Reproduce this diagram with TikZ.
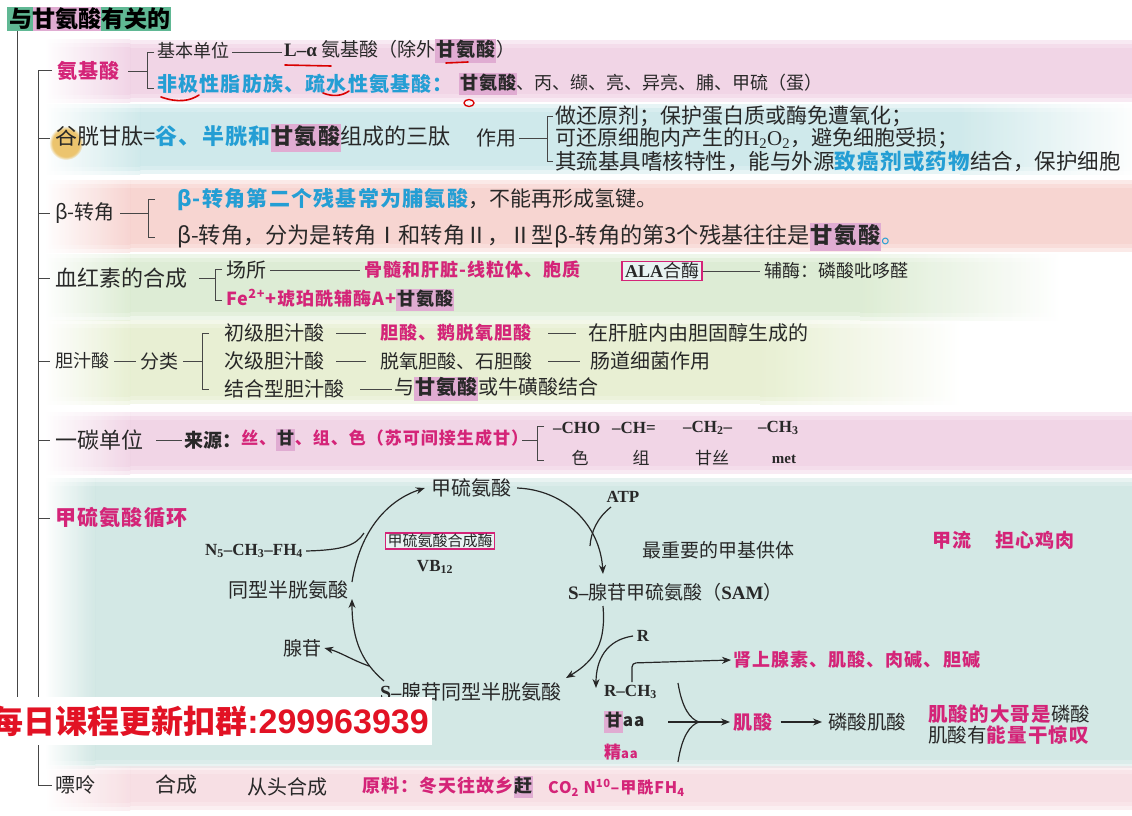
\documentclass[tikz,border=0pt]{standalone}
\usepackage{fontspec}
\setmainfont{Noto Sans CJK SC}
\newfontfamily\hei[LetterSpace=6]{Noto Sans CJK SC}
\newfontfamily\tms{Liberation Serif}
\newfontfamily\arl{Liberation Sans}
\usetikzlibrary{arrows.meta,fadings}
\definecolor{mag}{RGB}{212,36,120}
\definecolor{cyn}{RGB}{36,158,212}
\definecolor{hlc}{RGB}{224,172,210}
\definecolor{txt}{RGB}{40,40,40}
\definecolor{lnc}{RGB}{70,70,70}
\definecolor{ttg}{RGB}{96,184,148}
\definecolor{bred}{RGB}{226,18,36}
\definecolor{bA}{RGB}{238,200,224}
\definecolor{bB}{RGB}{194,228,230}
\definecolor{bC}{RGB}{246,200,196}
\definecolor{bD}{RGB}{212,232,200}
\definecolor{bE}{RGB}{226,236,198}
\definecolor{bF}{RGB}{238,202,224}
\definecolor{bG}{RGB}{198,226,222}
\definecolor{bH}{RGB}{246,214,220}
\definecolor{blob}{RGB}{236,196,110}
\newcommand\fz[1]{\fontsize{#1}{#1}\selectfont}
\newcommand\mg[1]{\textcolor{mag}{\hei\bfseries #1}}
\newcommand\cy[1]{\textcolor{cyn}{\hei\bfseries #1}}
\newcommand\hlt[1]{{\setlength{\fboxsep}{0.8pt}\colorbox{hlc}{\hei\bfseries\strut #1}}}
\newcommand\myband[7]{\foreach \bandd in {0,4,8}{%
  \shade[left color=white,right color=#3,opacity=0.38] (#4,#1+\bandd) rectangle (#5,#2-\bandd);
  \fill[#3,opacity=0.38] (#5,#1+\bandd) rectangle (#6,#2-\bandd);
  \shade[left color=#3,right color=white,opacity=0.38] (#6,#1+\bandd) rectangle (#7,#2-\bandd);}}
\begin{document}
\begin{tikzpicture}[x=1pt,y=-1pt,
  tx/.style={anchor=west, inner sep=0pt, text=txt, font=\fz{19}},
  ln/.style={draw=lnc, line width=0.9pt},
  arr/.style={draw=black!85, line width=1.2pt, -{Stealth[length=9pt,width=7pt]}},
  cl/.style={draw=black!85, line width=1.2pt},
  rmark/.style={draw=red!85!black, line width=1.6pt, line cap=round},
  mbox/.style={draw=mag, line width=1.5pt, text=txt, fill=white!60!bG}]
\useasboundingbox (0,0) rectangle (1132,816);
\fill[white] (0,0) rectangle (1132,816);
% background bands
\myband{40}{102}{bA}{45}{130}{1132}{1140}
\myband{104}{174}{bB}{45}{140}{960}{1140}
\myband{180}{252}{bC}{45}{130}{1132}{1140}
\myband{254}{320}{bD}{45}{130}{860}{1060}
\myband{320}{404}{bE}{45}{130}{760}{960}
\myband{412}{474}{bF}{45}{130}{1132}{1140}
\myband{478}{768}{bG}{45}{95}{1132}{1140}
\myband{766}{810}{bH}{45}{130}{1132}{1140}
\fill[blob, path fading=circle with fuzzy edge 20 percent] (66,143) circle (17);
% title
\fill[ttg] (7,7) rectangle (33,31);
\fill[hlc] (33,7) rectangle (101,31);
\fill[ttg] (101,7) rectangle (171,31);
\node[tx, font=\fz{23}\bfseries, text=black] (title) at (9,19) {与甘氨酸有关的};
% trunks
\draw[ln] (17,31) -- (17,720);
\draw[ln] (52,70) -- (38,70) -- (38,785) -- (52,785);
\foreach \yy in {138,213,278,361,440,518} \draw[ln] (38,\yy) -- (50,\yy);
% amino acid
\node[tx, font=\fz{20}] (aa) at (57,71) {\mg{氨基酸}};
\draw[ln] (128,71) -- (147,71);
\draw[ln] (154,52) -- (147,52) -- (147,88) -- (154,88);
\node[tx, font=\fz{18}] (jb) at (157,51) {基本单位};
\draw[ln] (jb.east) ++(3,1) -- (282,52);
\node[tx, font=\fz{19}] (la) at (284,51) {{\tms\bfseries L–α} 氨基酸（除外\hlt{甘氨酸}）};
\node[tx, font=\fz{20}] (fj) at (157,84) {\cy{非极性脂肪族、疏水性氨基酸：}};
\node[tx, font=\fz{18}] (gl) at (459,84) {\hlt{甘氨酸}、丙、缬、亮、异亮、脯、甲硫（蛋）};
\draw[rmark] (285,65) -- (331,66);
\draw[rmark] (446,63) -- (468,62);
\draw[rmark] (161,97) .. controls (178,103) and (190,101) .. (199,95);
\draw[rmark] (323,93) .. controls (333,97) and (342,96) .. (349,91);
\draw[rmark, line width=1.3pt] (469,103) ellipse (5 and 3.5);
% glutathione
\node[tx, font=\fz{22}] (gsh) at (55,138) {谷胱甘肽=\cy{谷、半胱和}\hlt{甘氨酸}组成的三肽};
\node[tx, font=\fz{20}] (zy) at (476,138) {作用};
\draw[ln] (zy.east) ++(3,0) -- (547,138);
\draw[ln] (553,116) -- (547,116) -- (547,161) -- (553,161);
\node[tx, font=\fz{21}] (z1) at (555,116) {做还原剂；保护蛋白质或酶免遭氧化；};
\node[tx, font=\fz{21}] (z2) at (555,138) {可还原细胞内产生的{\tms H\textsubscript{2}O\textsubscript{2}}，避免细胞受损；};
\node[tx, font=\fz{21.5}] (z3) at (555,161) {其巯基具嗜核特性，能与外源\cy{致癌剂或药物}结合，保护细胞};
% beta turn
\node[tx, font=\fz{20}] (bt) at (55,213) {β-转角};
\draw[ln] (120,213) -- (148,213);
\draw[ln] (155,199) -- (148,199) -- (148,237) -- (155,237);
\node[tx, font=\fz{21}] (b1) at (177,200) {\cy{β-转角第二个残基常为脯氨酸}，不能再形成氢键。};
\node[tx, font=\fz{22.2}] (b2) at (177,237) {β-转角，分为是转角Ⅰ和转角Ⅱ，Ⅱ型β-转角的第3个残基往往是\hlt{甘氨酸}\textcolor{cyn}{。}};
% heme
\node[tx, font=\fz{22}] (hx) at (55,278) {血红素的合成};
\draw[ln] (199,278) -- (215,278);
\draw[ln] (222,269) -- (215,269) -- (215,300) -- (222,300);
\node[tx, font=\fz{20}] (cs) at (226,270) {场所};
\draw[ln] (cs.east) ++(4,0) -- (360,270);
\node[tx, font=\fz{18}] (gs) at (364,270) {\mg{骨髓和肝脏-线粒体、胞质}};
\node[mbox, font=\fz{18}, inner xsep=3pt, inner ysep=1pt] (ala) at (662,271) {{\tms\bfseries ALA}合酶};
\draw[ln] (ala.east) -- (760,271);
\node[tx, font=\fz{18}] (fm) at (764,271) {辅酶：磷酸吡哆醛};
\node[tx, font=\fz{18}] (fe) at (226,300) {\mg{Fe\textsuperscript{2+}+琥珀酰辅酶A+}\hlt{甘氨酸}};
% bile acid
\node[tx, font=\fz{18}] (dz) at (55,361) {胆汁酸};
\draw[ln] (114,361) -- (136,361);
\node[tx, font=\fz{19}] (fl) at (140,361) {分类};
\draw[ln] (183,361) -- (202,361);
\draw[ln] (209,333) -- (202,333) -- (202,389) -- (209,389);
\node[tx, font=\fz{20}] (c1) at (224,333) {初级胆汁酸};
\draw[ln] (336,333) -- (366,333);
\node[tx, font=\fz{18}] (c1b) at (380,333) {\mg{胆酸、鹅脱氧胆酸}};
\draw[ln] (548,333) -- (576,333);
\node[tx, font=\fz{20}] (c1c) at (588,333) {在肝脏内由胆固醇生成的};
\node[tx, font=\fz{20}] (c2) at (224,361) {次级胆汁酸};
\draw[ln] (336,361) -- (366,361);
\node[tx, font=\fz{19}] (c2b) at (380,361) {脱氧胆酸、石胆酸};
\draw[ln] (548,361) -- (580,361);
\node[tx, font=\fz{20}] (c2c) at (590,361) {肠道细菌作用};
\node[tx, font=\fz{20}] (c3) at (224,389) {结合型胆汁酸};
\draw[ln] (360,389) -- (392,389);
\node[tx, font=\fz{20}] (c3b) at (394,389) {与\hlt{甘氨酸}或牛磺酸结合};
% one carbon
\node[tx, font=\fz{22}] (yt) at (55,440) {一碳单位};
\draw[ln] (156,440) -- (182,440);
\node[tx, font=\fz{19}\bfseries] (ly) at (184,440) {来源：};
\node[tx, font=\fz{17}] (sg) at (241,440) {\mg{丝、}\hlt{甘}\mg{、组、色（苏可间接生成甘）}};
\draw[ln] (522,440) -- (537,440);
\draw[ln] (544,426) -- (537,426) -- (537,460) -- (544,460);
\node[tx, font=\tms\bfseries\fz{17}] (f1) at (553,428) {–CHO};
\node[tx, font=\tms\bfseries\fz{17}] (f2) at (612,428) {–CH=};
\node[tx, font=\tms\bfseries\fz{17}] (f3) at (683,428) {–CH\textsubscript{2}–};
\node[tx, font=\tms\bfseries\fz{17}] (f4) at (758,428) {–CH\textsubscript{3}};
\node[tx, font=\fz{17}, anchor=center] (s1) at (580,458) {色};
\node[tx, font=\fz{17}, anchor=center] (s2) at (641,458) {组};
\node[tx, font=\fz{17}, anchor=center] (s3) at (712,458) {甘丝};
\node[tx, font=\tms\bfseries\fz{15}, anchor=center] (s4) at (784,459) {met};
% methionine cycle
\node[tx, font=\fz{21}] (mc) at (55,518) {\mg{甲硫氨酸循环}};
\node[tx, font=\fz{20}, anchor=center] (met) at (471,488) {甲硫氨酸};
\node[tx, font=\tms\bfseries\fz{17}, anchor=center] (atp) at (623,497) {ATP};
\node[tx, font=\tms\bfseries\fz{17}] (n5) at (205,551) {N\textsubscript{5}–CH\textsubscript{3}–FH\textsubscript{4}};
\node[mbox, font=\fz{15}, inner xsep=2pt, inner ysep=1pt] (mss) at (440,541) {甲硫氨酸合成酶};
\node[tx, font=\tms\bfseries\fz{17}, anchor=center] (vb) at (435,567) {VB\textsubscript{12}};
\node[tx, font=\fz{19}] (zyj) at (642,550) {最重要的甲基供体};
\node[tx, font=\fz{19}] (jl1) at (932,540) {\mg{甲流}};
\node[tx, font=\fz{19}] (jl2) at (995,540) {\mg{担心鸡肉}};
\node[tx, font=\fz{20}] (hcy) at (228,590) {同型半胱氨酸};
\node[tx, font=\fz{19}] (sam) at (568,592) {{\tms\bfseries S–}腺苷甲硫氨酸（{\tms\bfseries SAM}）};
\node[tx, font=\tms\bfseries\fz{17}, anchor=center] (r) at (643,636) {R};
\node[tx, font=\fz{19}] (ado) at (283,648) {腺苷};
\node[tx, font=\fz{20}] (sah) at (380,692) {{\tms\bfseries S–}腺苷同型半胱氨酸};
\node[tx, font=\tms\bfseries\fz{17}] (rch) at (604,692) {R–CH\textsubscript{3}};
\node[tx, font=\fz{18}] (sx) at (733,660) {\mg{肾上腺素、肌酸、肉碱、胆碱}};
\node[tx, font=\fz{17}] (gaa) at (604,722) {\hlt{甘}{\hei\bfseries aa}};
\node[tx, font=\fz{17}] (jaa) at (604,752) {\mg{精}{\color{mag}\fz{13}\hei\bfseries aa}};
\node[tx, font=\fz{19}] (ja) at (733,722) {\mg{肌酸}};
\node[tx, font=\fz{19.5}] (lsja) at (828,722) {磷酸肌酸};
\node[tx, font=\fz{19.5}] (nt1) at (928,714) {\mg{肌酸的大哥是}磷酸};
\node[tx, font=\fz{19.5}] (nt2) at (928,735) {肌酸有\mg{能量干惊叹}};
% cycle connectors
\draw[arr] (352,582) .. controls (360,530) and (388,500) .. ([xshift=-6pt]met.west);
\draw[cl] (n5.east) ++(3,0) .. controls (345,550) and (356,545) .. (364,533);
\draw[arr] ([xshift=6pt]met.east) .. controls (565,490) and (600,525) .. (603,574);
\draw[cl] (611,507) .. controls (597,518) and (591,532) .. (590,546);
\draw[arr] (603,606) .. controls (606,642) and (596,660) .. (566,678);
\draw[arr] (633,636) .. controls (606,640) and (596,660) .. (596,688);
\draw[arr] (384,681) .. controls (364,664) and (352,643) .. (352,599);
\draw[arr] (369,666) .. controls (352,660) and (340,652) .. ([xshift=3pt]ado.east);
\draw[arr, rounded corners=4pt] (632,682) -- (632,663) -- ([xshift=-2pt]sx.west);
\draw[cl] (678,683) .. controls (682,708) and (690,719) .. (699,722);
\draw[cl] (678,762) .. controls (682,736) and (690,725) .. (699,722);
\draw[arr] (668,722) -- ([xshift=-3pt]ja.west);
\draw[arr] ([xshift=8pt]ja.east) -- ([xshift=-6pt]lsja.west);
% purine
\node[tx, font=\fz{20}] (pl) at (55,785) {嘌呤};
\node[tx, font=\fz{21}] (hc) at (155,785) {合成};
\node[tx, font=\fz{20}] (ct) at (247,787) {从头合成};
\node[tx, font=\fz{18}] (yl) at (362,787) {\mg{原料：冬天往故乡}\hlt{赶}};
\node[tx, font=\fz{16}] (co) at (548,788) {\mg{CO\textsubscript{2}\ N\textsuperscript{10}–甲酰FH\textsubscript{4}}};
% banner
\fill[white] (0,697) rectangle (432,745);
\node[anchor=east, inner sep=0pt, text=bred, font=\fz{32}\bfseries] (ban) at (429,721) {每日课程更新扣群{\arl\fz{34}:299963939}};
\end{tikzpicture}
\end{document}
